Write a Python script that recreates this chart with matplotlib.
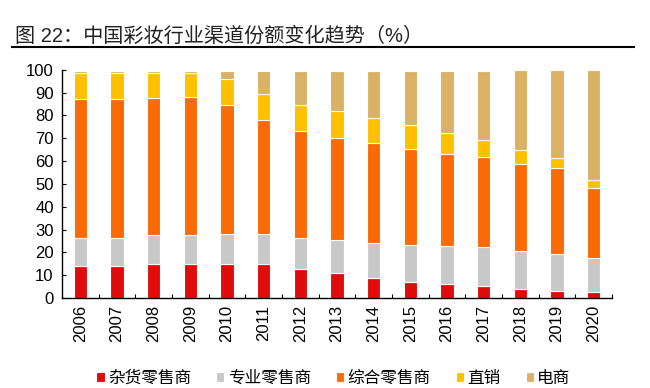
import matplotlib.pyplot as plt
import numpy as np

plt.rcParams['font.family'] = ['Liberation Sans', 'Noto Sans CJK SC', 'DejaVu Sans']

# 数据（%）
years = ['2006', '2007', '2008', '2009', '2010', '2011', '2012', '2013',
         '2014', '2015', '2016', '2017', '2018', '2019', '2020']
grocery = [13.9, 13.9, 14.8, 14.8, 14.8, 14.8, 12.9, 10.8, 8.9, 7.2, 6.0, 5.3, 4.0, 3.1, 2.6]
specialist = [12.6, 12.6, 12.7, 12.7, 13.2, 13.2, 13.6, 14.5, 15.4, 16.1, 16.7, 17.1, 16.6, 16.1, 15.1]
general = [60.9, 60.5, 60.2, 60.5, 56.6, 49.9, 46.6, 44.8, 43.5, 42.1, 40.6, 39.4, 38.3, 37.6, 30.5]
direct = [11.3, 11.7, 11.0, 10.7, 11.6, 11.6, 11.4, 11.7, 11.1, 10.3, 9.0, 7.6, 6.1, 4.4, 3.3]
ecommerce = [1.0, 1.0, 1.0, 1.0, 3.5, 10.2, 15.2, 17.9, 20.8, 24.0, 27.4, 30.3, 35.0, 38.8, 48.5]

series = [grocery, specialist, general, direct, ecommerce]
labels = ['杂货零售商', '专业零售商', '综合零售商', '直销', '电商']
colors = ['#E00B0B', '#C8C8C8', '#FA6A05', '#FFC000', '#DBB265']

fig = plt.figure(figsize=(6.5, 3.88), dpi=100)
ax = fig.add_axes([0.0954, 0.232, 0.846, 0.588])

x = np.arange(len(years))
bottom = np.zeros(len(years))
for vals, lab, col in zip(series, labels, colors):
    ax.bar(x, vals, 0.36, bottom=bottom, color=col, label=lab,
           edgecolor='white', linewidth=0.8)
    bottom += np.array(vals)

ax.set_xlim(-0.5, len(years) - 0.5)
ax.set_ylim(0, 100)
ax.set_yticks(range(0, 101, 10))
ax.tick_params(axis='y', direction='in', length=3, labelsize=12, pad=6)

# x轴：刻度线在类别之间，标签居中
ax.set_xticks(np.arange(-0.5, len(years), 1.0))
ax.set_xticklabels([])
ax.set_xticks(x, minor=True)
ax.set_xticklabels(years, minor=True, rotation=90, fontsize=12)
ax.tick_params(axis='x', which='major', direction='in', length=3)
ax.tick_params(axis='x', which='minor', length=0, pad=5)

for s in ['top', 'right']:
    ax.spines[s].set_visible(False)
for s in ['left', 'bottom']:
    ax.spines[s].set_linewidth(1.0)

ax.legend(loc='center', bbox_to_anchor=(0.513, 0.025), bbox_transform=fig.transFigure,
          ncol=5, frameon=False, fontsize=12, handlelength=0.5, handleheight=0.5,
          handletextpad=0.2, columnspacing=1.5)

# 标题与下划线
fig.text(0.023, 0.907, '图 22：中国彩妆行业渠道份额变化趋势（%）', fontsize=14.5,
         ha='left', va='center', color='#222222')
fig.add_artist(plt.Line2D([0.018, 0.976], [0.879, 0.879], color='black', linewidth=1.5))

fig.savefig('out.png', dpi=100)
